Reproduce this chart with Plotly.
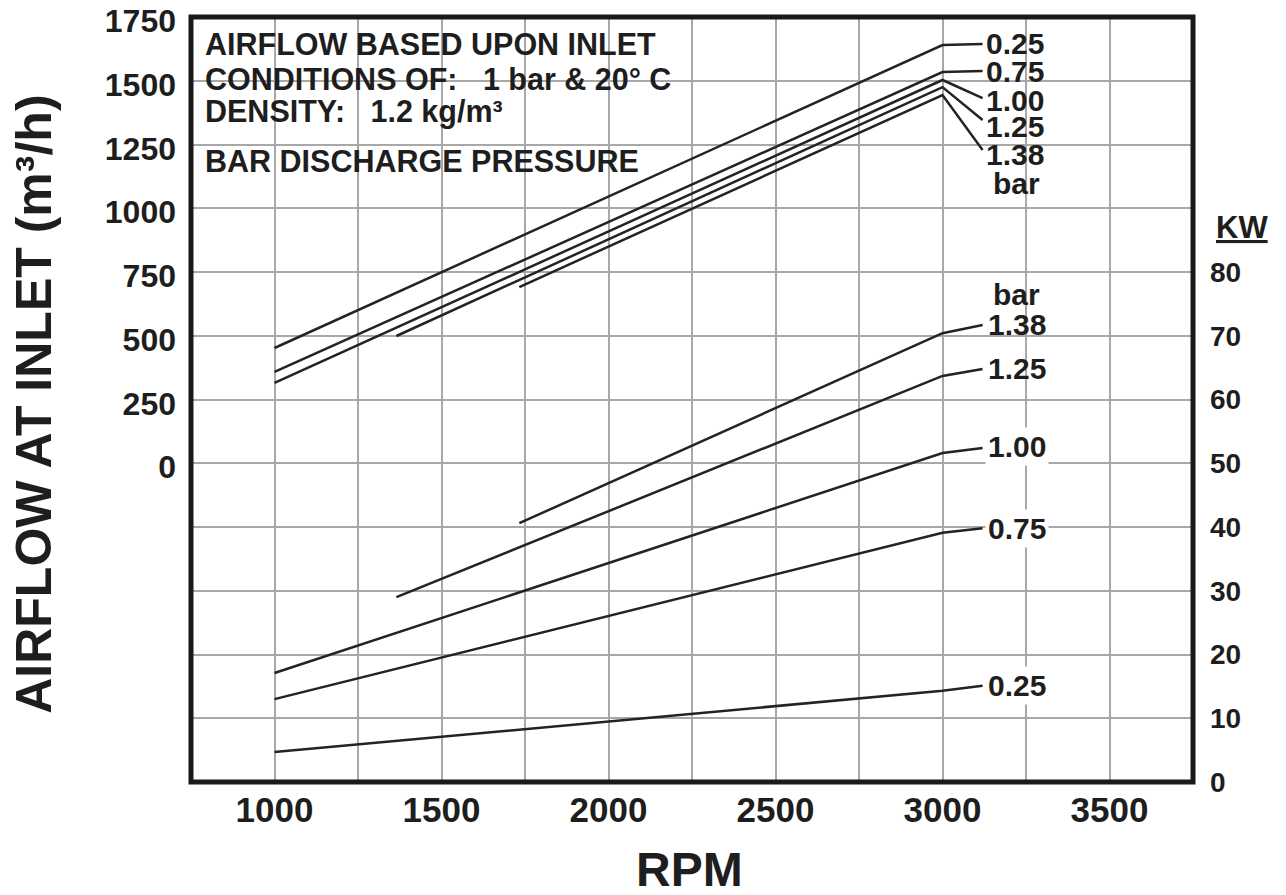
import plotly.graph_objects as go

# ---------------- data ----------------
pressures = ["0.25", "0.75", "1.00", "1.25", "1.38"]

# Airflow at inlet (m3/h)
air_rpm_start = [1000, 1000, 1000, 1365, 1733]
air_start = [452, 358, 315, 499, 691]
air_end = [1640, 1534, 1503, 1475, 1444]          # at 3000 RPM
air_leader = [1644, 1538, 1432, 1346, 1228]       # leader line end
air_label_y = [1646, 1538, 1424, 1319, 1209]      # label text centre
air_bar_y = 1099

# Power (kW)
kw_rpm_start = [1000, 1000, 1000, 1365, 1733]
kw_start = [4.7, 13.0, 17.1, 29.0, 40.6]
kw_end = [14.3, 39.1, 51.6, 63.7, 70.4]            # at 3000 RPM
kw_leader = [15.1, 39.8, 52.4, 64.8, 71.7]
kw_label_y = [15.2, 39.8, 52.7, 64.9, 71.7]
kw_bar_y = 76.4

rpm_end = 3000
rpm_leader = 3120
rpm_label = 3126

x_ticks = [1000, 1250, 1500, 1750, 2000, 2250, 2500, 2750, 3000, 3250, 3500]
x_ticklabels = ["1000", "", "1500", "", "2000", "", "2500", "", "3000", "", "3500"]
y_ticks = [-1000, -750, -500, -250, 0, 250, 500, 750, 1000, 1250, 1500, 1750]
y_ticklabels = ["", "", "", "", "0", "250", "500", "750", "1000", "1250", "1500", "1750"]
kw_ticks = [0, 10, 20, 30, 40, 50, 60, 70, 80]

notes = ["AIRFLOW BASED UPON INLET",
         "CONDITIONS OF:\u00a0\u00a0 1 bar & 20° C",
         "DENSITY:\u00a0\u00a0 1.2 kg/m³",
         "BAR DISCHARGE PRESSURE"]
notes_y = [0.9647, 0.919, 0.877, 0.8118]

# ---------------- figure ----------------
FONT = "Liberation Sans, Arial, Helvetica, sans-serif"
LINE = "#232323"
GRID = "#a8a8a8"
TXT = "#1e1e1e"

fig = go.Figure()

for i, p in enumerate(pressures):
    fig.add_trace(go.Scatter(
        x=[air_rpm_start[i], rpm_end, rpm_leader],
        y=[air_start[i], air_end[i], air_leader[i]],
        mode="lines", line=dict(color=LINE, width=2.5),
        name=f"Airflow {p} bar", yaxis="y", hoverinfo="skip"))
    fig.add_trace(go.Scatter(
        x=[kw_rpm_start[i], rpm_end, rpm_leader],
        y=[kw_start[i], kw_end[i], kw_leader[i]],
        mode="lines", line=dict(color=LINE, width=2.5),
        name=f"Power {p} bar", yaxis="y2", hoverinfo="skip"))

annotations = []
lab_font = dict(family=FONT, size=30, color=TXT, weight="bold")
isolated_kw = {"0.25", "0.75", "1.00"}
for i, p in enumerate(pressures):
    annotations.append(dict(x=rpm_label, y=air_label_y[i], xref="x", yref="y",
                            text=p, showarrow=False, xanchor="left", yanchor="middle",
                            font=lab_font, borderpad=0))
    annotations.append(dict(x=rpm_label, y=kw_label_y[i], xref="x", yref="y2",
                            text=p, showarrow=False, xanchor="left", yanchor="middle",
                            font=lab_font, borderpad=2,
                            bgcolor="white" if p in isolated_kw else None))
annotations.append(dict(x=rpm_label + 22, y=air_bar_y, xref="x", yref="y", text="bar",
                        showarrow=False, xanchor="left", yanchor="middle",
                        font=lab_font, borderpad=0))
annotations.append(dict(x=rpm_label + 22, y=kw_bar_y, xref="x", yref="y2", text="bar",
                        showarrow=False, xanchor="left", yanchor="middle",
                        font=lab_font, borderpad=0))

for t, yy in zip(notes, notes_y):
    annotations.append(dict(x=0.012, y=yy, xref="paper", yref="paper", text=t,
                            showarrow=False, xanchor="left", yanchor="middle",
                            font=dict(family=FONT, size=30.5, color=TXT, weight="bold")))

annotations.append(dict(x=-0.157, y=0.494, xref="paper", yref="paper",
                        text="AIRFLOW AT INLET (m³/h)", textangle=-90, showarrow=False,
                        xanchor="center", yanchor="middle",
                        font=dict(family=FONT, size=50, color=TXT, weight="bold")))
annotations.append(dict(x=0.498, y=-0.115, xref="paper", yref="paper",
                        text="RPM", showarrow=False, xanchor="center", yanchor="middle",
                        font=dict(family=FONT, size=48, color=TXT, weight="bold")))
annotations.append(dict(x=1.049, y=0.725, xref="paper", yref="paper",
                        text="<u>KW</u>", showarrow=False, xanchor="center", yanchor="middle",
                        font=dict(family=FONT, size=31, color=TXT, weight="bold")))

shapes = [
    # white panel behind the notes text (hides gridlines, below traces)
    dict(type="rect", xref="paper", yref="paper", x0=0.002, x1=0.4985, y0=0.778, y1=0.995,
         fillcolor="white", line=dict(width=0), layer="between"),
    # white panel behind stacked airflow labels
    dict(type="rect", xref="paper", yref="paper", x0=0.792, x1=0.869, y0=0.755, y1=0.995,
         fillcolor="white", line=dict(width=0), layer="between"),
    # white panel behind stacked kW labels
    dict(type="rect", xref="paper", yref="paper", x0=0.792, x1=0.869, y0=0.51, y1=0.658,
         fillcolor="white", line=dict(width=0), layer="between"),
    # frame
    dict(type="rect", xref="paper", yref="paper", x0=0, x1=1, y0=0, y1=1,
         line=dict(color="#1a1a1a", width=5), layer="above"),
]

fig.update_layout(
    width=1286, height=895,
    margin=dict(l=191, r=93, t=17, b=113, autoexpand=False),
    paper_bgcolor="white", plot_bgcolor="white",
    showlegend=False,
    font=dict(family=FONT, color=TXT),
    xaxis=dict(range=[750, 3750], tickvals=x_ticks, ticktext=x_ticklabels,
               showgrid=True, gridcolor=GRID, gridwidth=2, zeroline=False,
               ticks="", ticklabelstandoff=4, automargin=False,
               tickfont=dict(family=FONT, size=35, color=TXT, weight="bold")),
    yaxis=dict(range=[-1250, 1750], tickvals=y_ticks, ticktext=y_ticklabels,
               showgrid=True, gridcolor=GRID, gridwidth=2, zeroline=False,
               ticks="", ticklabelstandoff=14, ticklabelshift=4,
               ticklabeloverflow="allow", automargin=False,
               tickfont=dict(family=FONT, size=32, color=TXT, weight="bold")),
    yaxis2=dict(range=[0, 120], tickvals=kw_ticks, overlaying="y", side="right",
                showgrid=False, zeroline=False, ticks="", ticklabelstandoff=16,
                ticklabeloverflow="allow", automargin=False,
                tickfont=dict(family=FONT, size=28, color=TXT, weight="bold")),
    annotations=annotations,
    shapes=shapes,
)

fig.write_html("out.html")
